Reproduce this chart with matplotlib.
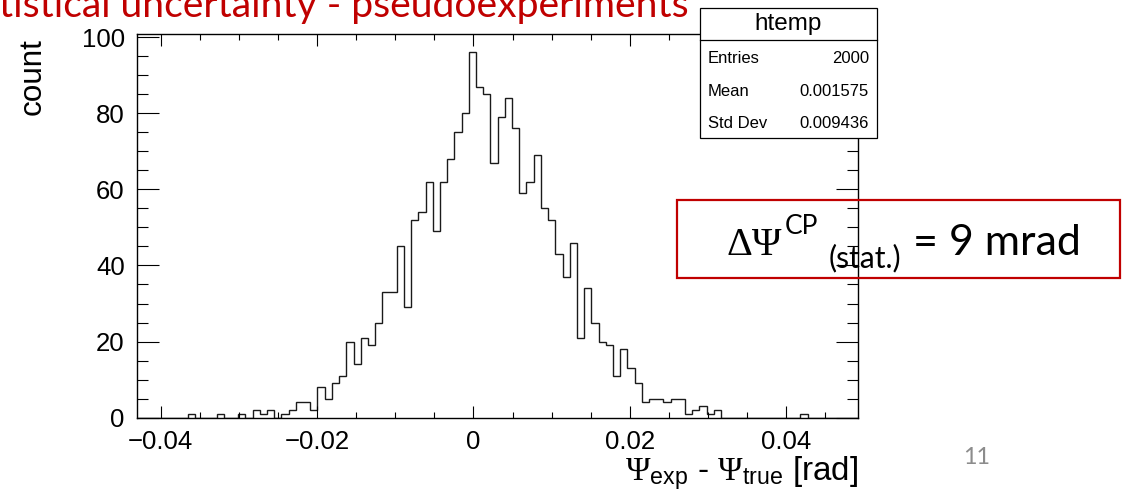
import matplotlib
matplotlib.use('Agg')
import matplotlib.pyplot as plt
import numpy as np
from matplotlib.patches import Rectangle
from matplotlib.lines import Line2D
from matplotlib.ticker import MultipleLocator, FixedLocator, FixedFormatter

# ---------------- data ----------------
counts = [0, 0, 0, 0, 0, 0, 0, 1, 0, 0,
          0, 1, 0, 0, 1, 0, 2, 1, 2, 0,
          1, 2, 4, 4, 2, 8, 5, 9, 11, 20,
          14, 21, 19, 25, 33, 33, 45, 29, 52, 54,
          62, 49, 62, 68, 75, 80, 96, 87, 85, 67,
          79, 84, 76, 59, 62, 69, 55, 52, 43, 37,
          46, 21, 34, 25, 20, 19, 11, 18, 13, 9,
          4, 5, 5, 4, 5, 5, 1, 2, 3, 1,
          2, 0, 0, 0, 0, 0, 0, 0, 0, 0,
          0, 0, 1, 0, 0, 0, 0, 0, 0, 0]
x_min, x_max = -0.0430, 0.0492
y_max = 100.8
x_major = [-0.04, -0.02, 0.0, 0.02, 0.04]
x_tick_labels = ['\u22120.04', '\u22120.02', '0', '0.02', '0.04']
y_major = [0, 20, 40, 60, 80, 100]
y_tick_labels = ['0', '20', '40', '60', '80', '100']
hist_name = 'htemp'
stat_labels = ['Entries', 'Mean', 'Std Dev']
stat_values = ['2000', '0.001575', '0.009436']
title_text = 'tistical uncertainty - pseudoexperiments'
x_title = r'$\mathrm{\Psi}_{\mathsf{exp}}$ - $\mathrm{\Psi}_{\mathsf{true}}$ [rad]'
y_title = 'count'
slide_number = '11'

# ---------------- style ----------------
plt.rcParams['mathtext.fontset'] = 'custom'
plt.rcParams['mathtext.rm'] = 'Liberation Serif'
plt.rcParams['mathtext.it'] = 'Liberation Serif:italic'
plt.rcParams['mathtext.bf'] = 'Liberation Serif:bold'
plt.rcParams['mathtext.sf'] = 'Liberation Sans'
plt.rcParams['font.family'] = ['Liberation Sans', 'DejaVu Sans']

RED = '#C00000'
W, H = 1127, 495
fig = plt.figure(figsize=(W / 100, H / 100), dpi=100)


def fx(px):
    return px / W


def fy(py):
    return 1 - py / H


L, R, T, B = 137.3, 858.0, 34.0, 417.7
ax = fig.add_axes([fx(L), fy(B), (R - L) / W, (B - T) / H])

edges = np.linspace(x_min, x_max, len(counts) + 1)
ax.stairs(counts, edges, color='#1a1a1a', lw=1.0)
ax.set_xlim(x_min, x_max)
ax.set_ylim(0, y_max)

ax.xaxis.set_major_locator(FixedLocator(x_major))
ax.xaxis.set_major_formatter(FixedFormatter(x_tick_labels))
ax.xaxis.set_minor_locator(MultipleLocator(0.005))
ax.yaxis.set_major_locator(FixedLocator(y_major))
ax.yaxis.set_major_formatter(FixedFormatter(y_tick_labels))
ax.yaxis.set_minor_locator(MultipleLocator(5))

ax.tick_params(which='both', direction='in', top=True, right=True,
               width=0.8, color='black', labelsize=18.5)
ax.xaxis.set_tick_params(which='major', length=8.3, pad=9.0)
ax.xaxis.set_tick_params(which='minor', length=4.1)
ax.yaxis.set_tick_params(which='major', length=15.6, pad=9.0)
ax.yaxis.set_tick_params(which='minor', length=7.8)
for s in ax.spines.values():
    s.set_linewidth(1.0)
    s.set_color('black')

# axis titles
xt = fig.text(fx(858), fy(480), x_title, ha='right', va='baseline', fontsize=19)
yt = fig.text(fx(33), fy(38), y_title, ha='center', va='top', rotation=90, fontsize=22)

# stat box
bx0, bx1, by0, by1 = 700, 877, 8.3, 138
fig.add_artist(Rectangle((fx(bx0), fy(by1)), (bx1 - bx0) / W, (by1 - by0) / H,
                         transform=fig.transFigure, facecolor='white',
                         edgecolor='black', lw=0.9, zorder=5))
fig.add_artist(Line2D([fx(bx0), fx(bx1)], [fy(40), fy(40)], transform=fig.transFigure,
                      color='black', lw=0.9, zorder=6))
fig.text(fx((bx0 + bx1) / 2), fy(30), hist_name, ha='center', va='baseline',
         fontsize=17.5, zorder=7)
for i, (lab, val) in enumerate(zip(stat_labels, stat_values)):
    yb = [63, 96, 128][i]
    fig.text(fx(708), fy(yb), lab, ha='left', va='baseline', fontsize=12, zorder=7)
    fig.text(fx(869), fy(yb), val, ha='right', va='baseline', fontsize=12, zorder=7)

# red title (cut at top-left as in the slide)
tt = fig.text(fx(-1), fy(17), title_text, ha='left', va='baseline', color=RED,
              fontsize=24, family='Lato')

# red result box
fig.add_artist(Rectangle((fx(676.7), fy(277.7)), (1120 - 676.7) / W, (277.7 - 200) / H,
                         transform=fig.transFigure, fill=False, edgecolor=RED,
                         lw=1.6, zorder=1))
t_dp = fig.text(fx(727), fy(255), '\u0394\u03a8', ha='left', va='baseline',
                fontsize=29, family='Liberation Serif', zorder=1)
t_cp = fig.text(fx(784), fy(234), 'CP', ha='left', va='baseline',
                fontsize=19, family='Lato', zorder=1)
t_st = fig.text(fx(829), fy(267), '(stat.)', ha='left', va='baseline',
                fontsize=16, family='Lato', zorder=1)
t_eq = fig.text(fx(913), fy(255), '= 9 mrad', ha='left', va='baseline',
                fontsize=28, family='Lato', zorder=1)

sn = fig.text(fx(963), fy(464), slide_number, ha='left', va='baseline',
              color='#8C8C8C', fontsize=14, family='Lato')

# fit text sizes to measured widths
fig.canvas.draw()
rend = fig.canvas.get_renderer()


def fit(t, target, use_height=False):
    bb = t.get_window_extent(rend)
    cur = bb.height if use_height else bb.width
    t.set_fontsize(t.get_fontsize() * target / cur)


fit(xt, 858 - 625)
fit(yt, 77, use_height=True)
fit(tt, 689)
fit(t_st, 902 - 829)
fit(t_eq, 1081 - 913)
fit(sn, 27)

# place CP right after the Psi glyphs
fig.canvas.draw()
bb = t_dp.get_window_extent(rend)
t_cp.set_x(fx(bb.x1 + 2))

fig.savefig('out.png', dpi=100)
